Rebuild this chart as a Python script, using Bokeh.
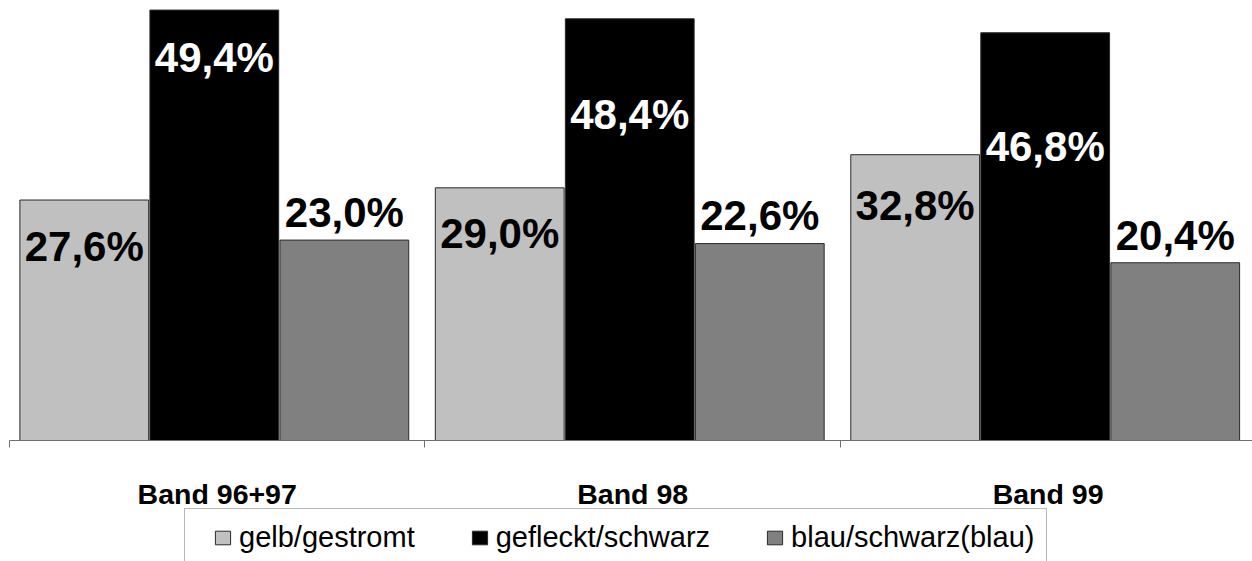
from bokeh.plotting import figure
from bokeh.layouts import column, row
from bokeh.models import ColumnDataSource, FixedTicker, Legend, LegendItem, Range1d, Spacer
from bokeh.transform import dodge
from bokeh.core.properties import value
from bokeh.embed import file_html
from bokeh.resources import INLINE

# ---- data ----
groups = ["Band 96+97", "Band 98", "Band 99"]
series = ["gelb/gestromt", "gefleckt/schwarz", "blau/schwarz(blau)"]
gelb = [27.6, 29.0, 32.8]
gefleckt = [49.4, 48.4, 46.8]
blau = [23.0, 22.6, 20.4]

# ---- styles / positions ----
colors = ["#C0C0C0", "#000000", "#808080"]
label_colors = ["#000000", "#FFFFFF", "#000000"]
label_dy = [[46, 46, 51], [47, 96, 114], [-28, -28, -27]]  # px offsets of value labels
offsets = [-0.320, -0.007, 0.306]
FONT = "Liberation Sans"
EDGE = "#2a2a2a"

values_by_series = [gelb, gefleckt, blau]
centers = [i + 0.5 for i in range(len(groups))]

data = dict(x=centers)
for j, vals in enumerate(values_by_series):
    data[f"v{j}"] = vals
    data[f"t{j}"] = [f"{v:.1f}%".replace(".", ",") for v in vals]
    data[f"dy{j}"] = label_dy[j]
src = ColumnDataSource(data)

p = figure(width=1252, height=512,
           x_range=Range1d(0, 2.992), y_range=Range1d(0, 50.5),
           output_backend="svg", toolbar_location=None,
           y_axis_location=None,
           min_border_left=9, min_border_right=0, min_border_top=0, min_border_bottom=72)
p.outline_line_color = None
p.xgrid.visible = False
p.ygrid.visible = False
p.background_fill_color = "white"
p.border_fill_color = "white"

for j in range(3):
    p.vbar(x=dodge("x", offsets[j], range=p.x_range), top=f"v{j}", bottom=0,
           width=0.31, source=src, fill_color=colors[j],
           line_color=EDGE, line_width=1)

for j in range(3):
    p.text(x=dodge("x", offsets[j], range=p.x_range), y=f"v{j}", text=f"t{j}",
           y_offset=f"dy{j}", source=src, text_align="center",
           text_baseline="alphabetic", text_font=value(FONT),
           text_font_style="bold", text_font_size="42px",
           text_color=label_colors[j])

ax = p.xaxis[0]
ax.ticker = FixedTicker(ticks=centers, minor_ticks=list(range(len(groups) + 1)))
ax.major_label_overrides = {c: g for c, g in zip(centers, groups)}
ax.major_tick_out = 0
ax.major_tick_in = 0
ax.minor_tick_out = 7
ax.minor_tick_in = 0
ax.minor_tick_line_color = "#707070"
ax.axis_line_color = "#707070"
ax.major_label_standoff = 30
ax.major_label_text_font = FONT
ax.major_label_text_font_style = "bold"
ax.major_label_text_font_size = "28.5px"
ax.major_label_text_color = "#000000"

# ---- legend strip (same series drawn off-range, only their legend shows) ----
p2 = figure(width=866, height=53, x_range=p.x_range, y_range=Range1d(-2, -1),
            output_backend="svg", toolbar_location=None,
            x_axis_location=None, y_axis_location=None, min_border=0)
p2.outline_line_color = None
p2.xgrid.visible = False
p2.ygrid.visible = False
p2.background_fill_color = "white"
p2.border_fill_color = "white"

leg_renderers = []
for j in range(3):
    r = p2.vbar(x=dodge("x", offsets[j], range=p2.x_range), top=f"v{j}", bottom=0,
                width=0.31, source=src, fill_color=colors[j],
                line_color=EDGE, line_width=1)
    leg_renderers.append(r)

legend = Legend(items=[LegendItem(label=s, renderers=[r]) for s, r in zip(series, leg_renderers)],
                orientation="horizontal", location="top_left",
                padding=12, spacing=55, label_standoff=7, margin=0,
                glyph_width=19, glyph_height=17, label_height=20,
                label_text_font=FONT, label_text_font_size="29px",
                label_text_color="#000000",
                border_line_color="#707070", border_line_width=1,
                background_fill_color="white", background_fill_alpha=1.0)
if "title_location" in Legend.properties():
    legend.title = " "
    legend.title_location = "left"
    legend.title_text_font_size = "6px"
    legend.title_standoff = 10
p2.add_layout(legend, "center")

strip = row(Spacer(width=184, height=53), p2, spacing=0, margin=(-4, 0, 0, 0))
layout = column(p, strip, spacing=0)
open("out.html", "w").write(file_html(layout, INLINE))
